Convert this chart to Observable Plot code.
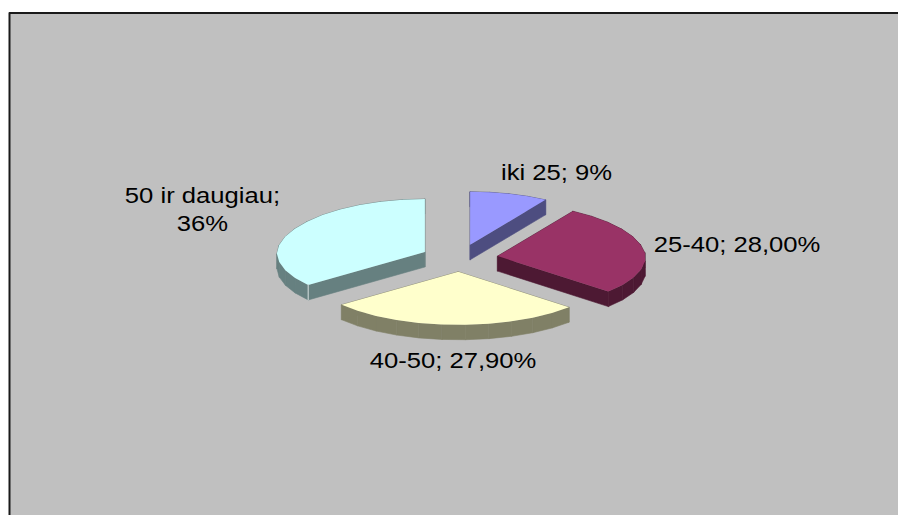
<!DOCTYPE html>
<html><head><meta charset="utf-8">
<script src="https://cdn.jsdelivr.net/npm/d3@7"></script>
<script src="https://cdn.jsdelivr.net/npm/@observablehq/plot@0.6"></script>
<style>html,body{margin:0;padding:0;background:#fff}svg{display:block}</style>
</head><body><div id="chart"></div>
<script>
const labels = ["iki 25; 9%", "25-40; 28,00%", "40-50; 27,90%", "50 ir daugiau;\n36%"];
const values = [9, 28, 27.9, 36];
const topColors = ["#9999ff", "#993366", "#ffffcc", "#ccffff"];
const sideColors = ["#4d4d80", "#4d1933", "#808066", "#668080"];

const W = 898, H = 515, cx = 459, cy = 257.5, rx = 148, ry = 53;
const explode = 0.26, depth = 15 / ry, step = 2 * Math.PI / 40;
const taperBack = 0.05, taperFront = 0.01;
const X = px => (px - cx) / rx, Y = py => (cy - py) / ry;
const total = d3.sum(values);

let a = 0;
const slices = values.map((v, i) => {
  const a0 = a, a1 = a + v / total * 2 * Math.PI; a = a1;
  const m = (a0 + a1) / 2;
  const ox = explode * Math.sin(m), oy = explode * Math.cos(m);
  const pts = [{x: ox, y: oy}];
  const n = Math.max(1, Math.round((a1 - a0) / step));
  for (let k = 0; k <= n; k++) {
    const t = a0 + (a1 - a0) * k / n;
    const y = Math.cos(t);
    const f = 1 - (y > 0 ? taperBack : taperFront) * y;
    pts.push({x: ox + Math.sin(t) * f, y: oy + y});
  }
  return {i, pts};
});

const sideQuads = s => s.pts.map((p, k) => {
  const q = s.pts[(k + 1) % s.pts.length];
  return [p, q, {x: q.x, y: q.y - depth}, {x: p.x, y: p.y - depth}];
});

const labelAt = [
  {x: X(556), y: Y(171)}, {x: X(736.5), y: Y(243)},
  {x: X(452.5), y: Y(359)}, {x: X(202), y: Y(208)}
];
const labelRows = labels.map((t, i) => ({text: t, ...labelAt[i]}));

const seam = slices[3].pts[1];
const marks = [
  Plot.line([{x: X(9), y: Y(530)}, {x: X(9), y: Y(12.5)}, {x: X(910), y: Y(12.5)}, {x: X(910), y: Y(530)}],
    {x: "x", y: "y", curve: "linear-closed", fill: "#c0c0c0", stroke: "#1a1a1a", strokeWidth: 2})
];
slices.forEach(s => {
  sideQuads(s).forEach(q => marks.push(
    Plot.line(q, {x: "x", y: "y", curve: "linear-closed", fill: sideColors[s.i], stroke: sideColors[s.i], strokeWidth: 0.6})
  ));
  marks.push(Plot.line(s.pts, {x: "x", y: "y", curve: "linear-closed", fill: topColors[s.i]}));
});
marks.push(Plot.line([seam, {x: seam.x, y: seam.y - depth}], {x: "x", y: "y", stroke: "#c4d0d0", strokeWidth: 1.2}));
marks.push(Plot.text(labelRows, {x: "x", y: "y", text: "text", fill: "#000", fontSize: 22, lineHeight: 1.27, fontFamily: "Liberation Sans, Arial, sans-serif", textAnchor: "middle"}));

const chart = Plot.plot({
  width: W, height: H, margin: 0, style: {background: "#fff", overflow: "hidden"},
  x: {type: "linear", domain: [X(0), X(W)], range: [0, W], axis: null},
  y: {type: "linear", domain: [Y(0), Y(H)], range: [0, H], axis: null},
  marks
});
document.getElementById("chart").append(chart);

// The reference's lettering is stretched sideways.
const widen = 1.165;
chart.querySelectorAll("text").forEach(t => {
  const parts = t.querySelectorAll("tspan");
  (parts.length ? parts : [t]).forEach(el => {
    el.setAttribute("textLength", el.getComputedTextLength() * widen);
    el.setAttribute("lengthAdjust", "spacingAndGlyphs");
  });
});
</script></body></html>
